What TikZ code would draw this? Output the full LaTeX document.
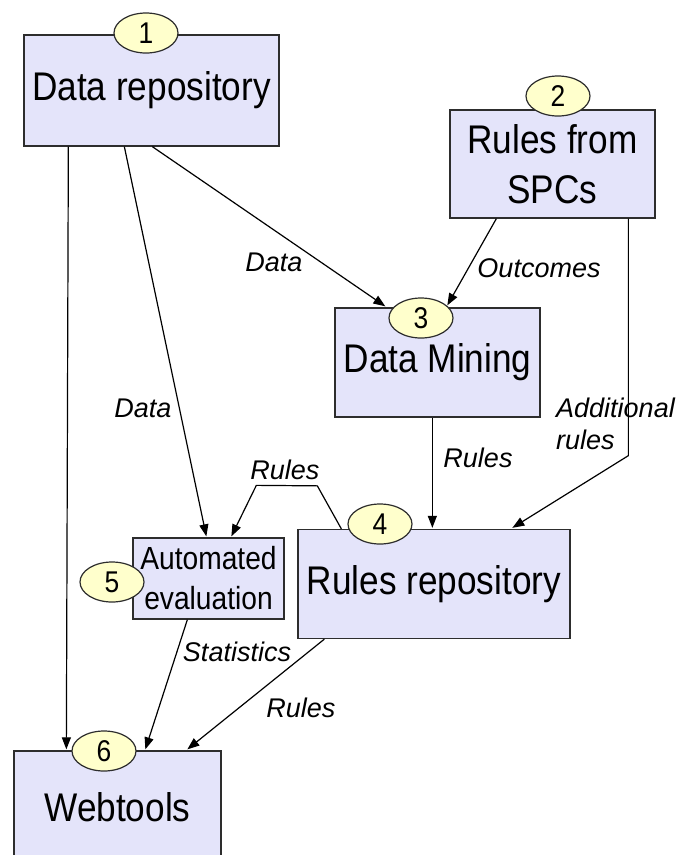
\documentclass[tikz,border=0pt]{standalone}
\usepackage{fontspec}
\setmainfont{Liberation Sans}
\newfontfamily\cond[FakeStretch=0.88]{Liberation Sans}
\usetikzlibrary{arrows.meta,calc,shapes.geometric}
\definecolor{boxfill}{RGB}{228,228,250}
\definecolor{ovalfill}{RGB}{255,255,204}
\definecolor{edgecol}{RGB}{45,45,45}
\begin{document}
\begin{tikzpicture}[x=1pt,y=-1pt,
  box/.style={draw=edgecol,line width=1.3pt,fill=boxfill,inner sep=0pt,align=center,
    font=\cond\fontsize{40}{50}\selectfont},
  smallbox/.style={box,font=\cond\fontsize{32}{40}\selectfont},
  num/.style={ellipse,draw=edgecol,line width=1.2pt,fill=ovalfill,minimum width=64pt,
    minimum height=40pt,inner sep=0pt,font=\cond\fontsize{30}{30}\selectfont},
  lbl/.style={inner sep=0pt,font=\itshape\fontsize{27}{32}\selectfont},
  arr/.style={draw=black,line width=1.2pt,-{Triangle[length=12pt,width=9pt]}}
]
\useasboundingbox (0,0) rectangle (682,855);
\clip (0,0) rectangle (682,855);

% boxes
\node[box,minimum width=255pt,minimum height=111pt] (b1) at (151.5,90.5) {Data repository};
\node[box,minimum width=205pt,minimum height=108pt] (b2) at (552.5,164) {Rules from\\SPCs};
\node[box,minimum width=205pt,minimum height=109pt] (b3) at (437.5,362.5) {Data Mining};
\node[box,minimum width=272pt,minimum height=109pt] (b4) at (434,584) {Rules repository};
\node[smallbox,minimum width=151pt,minimum height=81pt] (b5) at (208.5,578.5) {Automated\\evaluation};
\node[box,minimum width=207pt,minimum height=112pt] (b6) at (117.5,807) {Webtools};

% numbered ovals
\node[num] (n1) at (146,33) {1};
\node[num] (n2) at (558,96) {2};
\node[num] (n3) at (421,318) {3};
\node[num] (n4) at (380,524) {4};
\node[num] (n5) at (112,582) {5};
\node[num] (n6) at (104,751) {6};

% connectors
\draw[arr] ($(b1.south west)+(45,0)$) -- ($(b6.north west)+(53,-1)$);
\draw[arr] ($(b1.south west)+(101,0)$) -- ($(b5.north west)+(74,-1)$);
\draw[arr] ($(b1.south west)+(129,0)$) -- ($(b3.north west)+(51,-1)$);
\draw[arr] ($(b2.south west)+(47,0)$) -- ($(b3.north west)+(113,-2)$);
\draw[arr] ($(b2.south west)+(179,0)$) -- ($(b2.south west)+(179,237)$) -- ($(b4.north west)+(215,-1)$);
\draw[arr] ($(b3.south west)+(98,0)$) -- ($(b4.north west)+(135,-1)$);
\draw[arr] ($(b4.north west)+(44,0)$) -- ($(b4.north west)+(20,-43)$) -- ($(b5.north west)+(124,-52)$) -- ($(b5.north west)+(99,-1)$);
\draw[arr] ($(b5.south west)+(55,0)$) -- ($(b6.north west)+(132,-1)$);
\draw[arr] ($(b4.south west)+(27,0)$) -- ($(b6.north west)+(174,-1)$);

% labels
\node[lbl] (l13) at (274,262) {Data};
\node[lbl] (l15) at (143,408) {Data};
\node[lbl] (l23) at (539,268) {Outcomes};
\node[lbl,anchor=west] (l24a) at (556,408) {Additional};
\node[lbl,anchor=west] (l24b) at (556,440) {rules};
\node[lbl] (l34) at (478,458) {Rules};
\node[lbl] (l45) at (285,470) {Rules};
\node[lbl] (l56) at (237,652) {Statistics};
\node[lbl] (l46) at (301,708) {Rules};
\end{tikzpicture}
\end{document}
